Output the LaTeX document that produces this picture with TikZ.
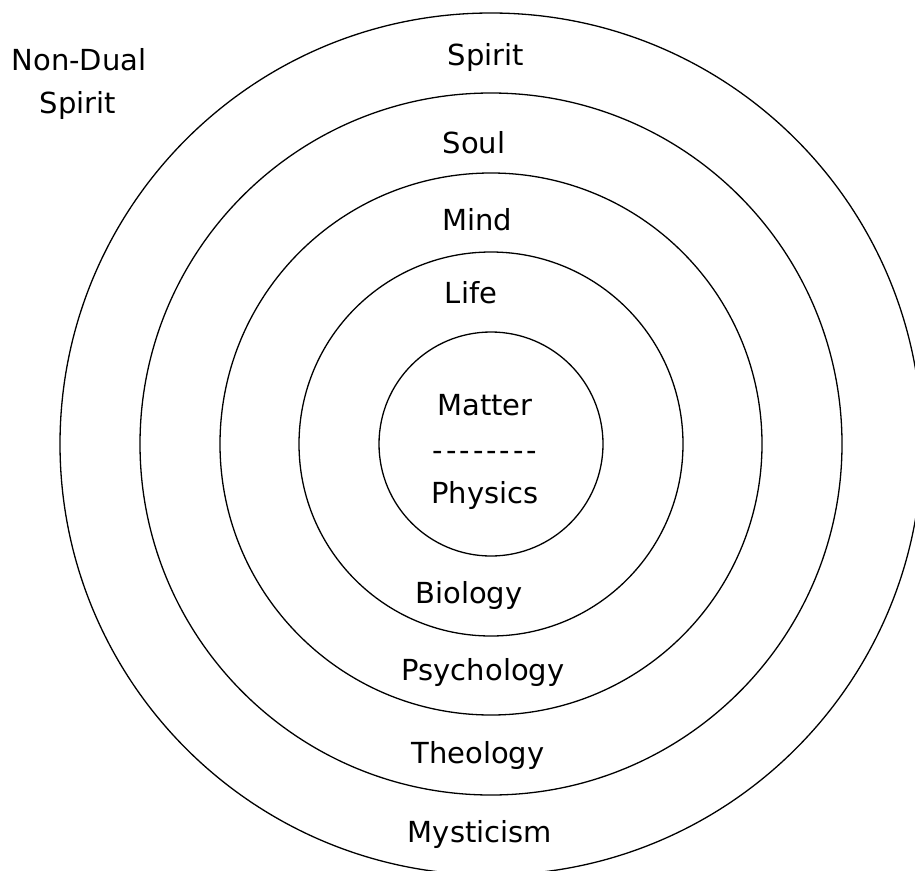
\documentclass[tikz,border=0pt]{standalone}
\usepackage{fontspec}
\setmainfont{DejaVu Sans}
\usepackage{tikz}

\tikzset{
  ring/.style={black, line width=1.3pt},
  lbl/.style={anchor=base, inner sep=0pt, font=\fontsize{29}{34}\selectfont}
}

\begin{document}
\begin{tikzpicture}[x=1pt, y=-1pt]
    \useasboundingbox (0,0) rectangle (915,870);
    \clip (0,0) rectangle (915,870);
                    \coordinate (c) at (491,444);
                    \foreach \r in {112,192,271,351,431} {
                         \draw[ring] (c) circle[radius=\r pt];
                     }

                     \node[lbl] (spirit) at (486, 65) {Spirit};
                     \node[lbl] (soul) at (474, 153) {Soul};
                     \node[lbl] (mind) at (477, 230) {Mind};
                     \node[lbl] (life) at (471, 303) {Life};
                     \node[lbl] (matter) at (485, 415) {Matter};
                     \node[lbl] (dashes) at (485, 460) {\addfontfeature{LetterSpace=10}-{}-{}-{}-{}-{}-{}-{}-};
                     \node[lbl] (physics) at (485, 503) {Physics};
                        \node[lbl] (biology) at (469, 603) {Biology};
                        \node[lbl] (psychology) at (483, 680) {Psychology};
                        \node[lbl] (theology) at (478, 763) {Theology};
                        \node[lbl] (mysticism) at (480, 842) {Mysticism};

                     \node[lbl] (nondual) at (79, 70) {Non-Dual};
                     \node[lbl] (ndspirit) at (78, 113) {Spirit};
                 \end{tikzpicture}
\end{document}
